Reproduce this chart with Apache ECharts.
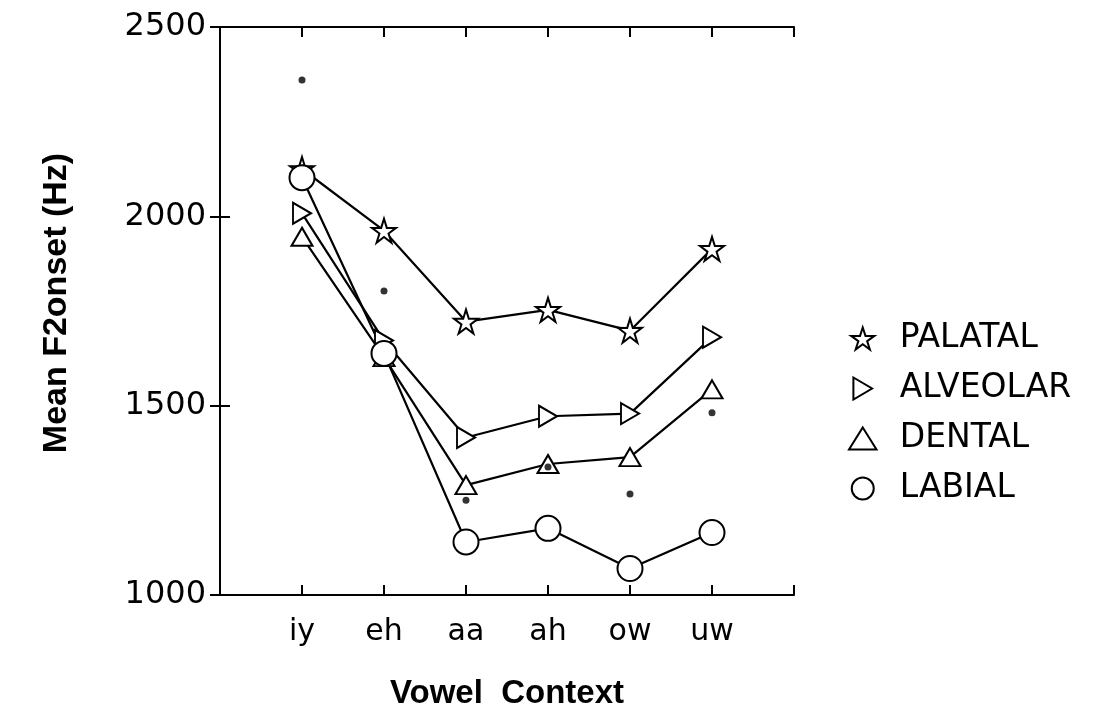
<!DOCTYPE html>
<html>
<head>
<meta charset="utf-8">
<script src="https://cdn.jsdelivr.net/npm/echarts@6/dist/echarts.min.js"></script>
<style>html,body{margin:0;padding:0;background:#fff}#c{width:1102px;height:719px}</style>
</head>
<body>
<div id="c"></div>
<script>
var categories = ['iy', 'eh', 'aa', 'ah', 'ow', 'uw'];
var palatal  = [2125, 1962, 1722, 1753, 1698, 1914];
var alveolar = [2008, 1672, 1416, 1472, 1479, 1681];
var dental   = [1946, 1628, 1290, 1346, 1364, 1543];
var labial   = [2102, 1638, 1140, 1176, 1070, 1165];
var dots     = [2360, 1803, 1250, 1338, 1267, 1481];
var yTicks = [1000, 1500, 2000, 2500];

var STAR = 'path://M50,0 L61.17,34.63 L97.55,34.55 L68.07,55.87 L79.39,90.45 L50,69 L20.61,90.45 L31.93,55.87 L2.45,34.55 L38.83,34.63 Z';
var RTRI = 'path://M0,0 L17,10 L0,20 Z';
var UTRI = 'path://M10,0 L20,16 L0,16 Z';

function pts(arr) { return arr.map(function (v, i) { return [i + 1, v]; }); }

var font = 'Liberation Sans, Arial, sans-serif';
var tfont = 'DejaVu Sans, Liberation Sans, sans-serif';
var markStyle = { color: '#fff', borderColor: '#000', borderWidth: 2 };
var lineStyle = { color: '#000', width: 2.2 };

function lineSeries(name, arr, symbol, size) {
  return {
    name: name, type: 'line', data: pts(arr), symbol: symbol, symbolSize: size,
    showAllSymbol: true, itemStyle: markStyle, lineStyle: lineStyle,
    emphasis: { disabled: true }, z: 3, animation: false
  };
}

var chart = echarts.init(document.getElementById('c'), null, { renderer: 'canvas' });
chart.setOption({
  animation: false,
  backgroundColor: '#fff',
  grid: { left: 220, right: 308, top: 27, bottom: 124 },
  legend: {
    orient: 'vertical', left: 843, top: 317, itemWidth: 64, itemHeight: 22, itemGap: 17,
    textStyle: { fontSize: 33, color: '#000', fontFamily: tfont },
    data: [
      { name: 'PALATAL', icon: STAR },
      { name: 'ALVEOLAR', icon: RTRI },
      { name: 'DENTAL', icon: UTRI },
      { name: 'LABIAL', icon: 'circle' }
    ],
    selectedMode: false
  },
  xAxis: [{
    type: 'value', min: 0, max: 7, interval: 1, position: 'bottom',
    name: 'Vowel  Context', nameLocation: 'middle', nameGap: 82,
    nameTextStyle: { fontSize: 33, fontWeight: 'bold', color: '#000', fontFamily: font },
    axisLine: { show: true, lineStyle: { color: '#000', width: 2 } },
    axisTick: { show: true, inside: true, length: 10, lineStyle: { color: '#000', width: 2 } },
    axisLabel: {
      fontSize: 30, color: '#000', fontFamily: tfont, margin: 22,
      formatter: function (v) { return categories[v - 1] || ''; }
    },
    splitLine: { show: false }
  }, {
    type: 'value', min: 0, max: 7, interval: 1, position: 'top',
    axisLine: { show: true, lineStyle: { color: '#000', width: 2 } },
    axisTick: { show: true, inside: true, length: 10, lineStyle: { color: '#000', width: 2 } },
    axisLabel: { show: false }, splitLine: { show: false }
  }],
  yAxis: [{
    type: 'value', min: yTicks[0], max: yTicks[yTicks.length - 1], interval: 500, position: 'left',
    name: 'Mean F2onset (Hz)', nameLocation: 'middle', nameGap: 146,
    nameTextStyle: { fontSize: 34, fontWeight: 'bold', color: '#000', fontFamily: font, padding: [0, 0, 0, 16] },
    axisLine: { show: true, lineStyle: { color: '#000', width: 2 } },
    axisTick: { show: true, inside: true, length: 10, lineStyle: { color: '#000', width: 2 } },
    axisLabel: { fontSize: 32, color: '#000', fontFamily: tfont, margin: 14, formatter: function (v) { return String(v); } },
    splitLine: { show: false }
  }, {
    type: 'value', min: yTicks[0], max: yTicks[yTicks.length - 1], interval: 500, position: 'right',
    axisLine: { show: true, lineStyle: { color: '#000', width: 2 } },
    axisTick: { show: true, inside: true, length: 10, lineStyle: { color: '#000', width: 2 } },
    axisLabel: { show: false }, splitLine: { show: false }
  }],
  series: [
    lineSeries('PALATAL', palatal, STAR, 24),
    lineSeries('ALVEOLAR', alveolar, RTRI, [18, 21]),
    lineSeries('DENTAL', dental, UTRI, [21, 18]),
    lineSeries('LABIAL', labial, 'circle', 25),
    {
      name: 'dots', type: 'scatter', data: pts(dots), symbol: 'circle', symbolSize: 7,
      itemStyle: { color: '#000' }, z: 4, emphasis: { disabled: true }
    }
  ]
});
</script>
</body>
</html>
